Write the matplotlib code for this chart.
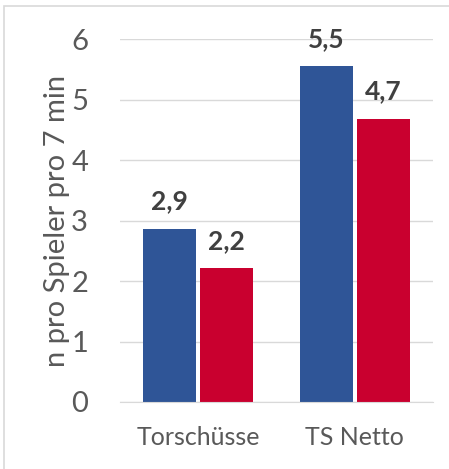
import matplotlib
matplotlib.use("Agg")
from matplotlib import pyplot as plt
from matplotlib.patches import Rectangle
import numpy as np

categories = ["Torschüsse", "TS Netto"]
series_a = [2.86, 5.55]
series_b = [2.21, 4.68]
labels_a = ["2,9", "5,5"]
labels_b = ["2,2", "4,7"]
y_ticks = [0, 1, 2, 3, 4, 5, 6]

plt.rcParams["font.family"] = ["Lato", "DejaVu Sans"]

fig = plt.figure(figsize=(4.49, 4.69), dpi=100)
ax = fig.add_axes([120 / 449, 1 - 402 / 469, 313 / 449, 363 / 469])

# light frame round the chart area
fig.patches.append(Rectangle((4 / 449, -0.1), 1.2, 1 - 6 / 469 + 0.1,
                             transform=fig.transFigure, fill=False,
                             edgecolor="#d9d9d9", linewidth=1.2))

x = np.arange(len(categories))
w = 0.34
bars_a = ax.bar(x - w / 2 - 0.013, series_a, w, color="#2f5597")
bars_b = ax.bar(x + w / 2 + 0.013, series_b, w, color="#c9002f")

for bars, labs in ((bars_a, labels_a), (bars_b, labels_b)):
    for b, lab in zip(bars, labs):
        ax.annotate(lab, (b.get_x() + b.get_width() / 2, b.get_height()),
                    xytext=(0, 14), textcoords="offset points",
                    ha="center", va="baseline", fontsize=19,
                    fontweight="bold", color="#404040")

ax.set_xlim(-0.5, 1.5)
ax.set_ylim(0, 6)
ax.set_yticks(y_ticks)
ax.set_xticks(x)
ax.set_xticklabels(categories)
ax.yaxis.grid(True, color="#d9d9d9", linewidth=1)
ax.set_axisbelow(True)
for s in ["top", "right", "left"]:
    ax.spines[s].set_visible(False)
ax.spines["bottom"].set_color("#d9d9d9")
ax.tick_params(axis="y", length=0, pad=23, labelsize=21, labelcolor="#595959")
ax.tick_params(axis="x", length=0, pad=17, labelsize=18, labelcolor="#595959")
ax.set_ylabel("n pro Spieler pro 7 min", fontsize=21, color="#595959", labelpad=1)

fig.savefig("out.png", dpi=100)
